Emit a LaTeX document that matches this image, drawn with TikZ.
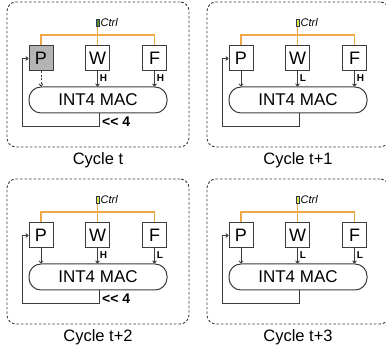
\documentclass[tikz,border=0pt]{standalone}
\usepackage{fontspec}
\setmainfont{Liberation Sans}
\usetikzlibrary{arrows.meta}
\definecolor{ctrlorange}{HTML}{F0A845}
\definecolor{linegray}{HTML}{3C3C3C}
\definecolor{pgray}{HTML}{B4B4B4}
\definecolor{ctrlgreen}{HTML}{5C8C2C}
\definecolor{ctrlyellow}{HTML}{E6E23A}
\definecolor{ctrledge}{HTML}{2A3A5A}
\tikzset{
 panelbox/.style={draw=linegray, dash pattern=on 2.5pt off 2pt, rounded corners=9pt, line width=0.9pt, minimum width=182pt, minimum height=145pt, inner sep=0pt},
 unitbox/.style={draw=linegray, line width=1pt, minimum width=24pt, minimum height=25pt, inner sep=0pt, font=\fontsize{18}{18}\selectfont},
 pbox-hl/.style={unitbox, fill=pgray},
 pbox-no/.style={unitbox, fill=white},
 macbox/.style={draw=linegray, line width=1pt, rounded corners=12pt, minimum width=138pt, minimum height=26pt, inner sep=0pt, font=\fontsize{17}{17}\selectfont},
 flow/.style={draw=linegray, line width=0.9pt, -{To[length=3pt,width=4.5pt]}},
 parrow-hl/.style={flow, dash pattern=on 2pt off 1.5pt},
 parrow-no/.style={flow},
 ctrlline/.style={draw=ctrlorange, line width=1.2pt},
 ctrlicon/.style={draw=ctrledge, line width=0.6pt, minimum width=2.6pt, minimum height=7pt, inner sep=0pt},
 ctrltext/.style={font=\fontsize{11}{11}\selectfont\itshape, inner sep=0pt, anchor=west},
 bitlabel/.style={font=\fontsize{10}{10}\selectfont\bfseries, inner sep=0pt, anchor=west},
 shiftlabel/.style={font=\fontsize{14}{14}\selectfont\bfseries, inner sep=0pt, anchor=north west},
 captext/.style={font=\fontsize{16.5}{16.5}\selectfont, inner sep=0pt},
}
% #1 prefix, #2 dx, #3 dy, #4 mode (hl/no), #5 icon colour, #6 W label, #7 F label, #8 caption
\newcommand\cyclepanel[8]{%
\begin{scope}[shift={(#2,#3)}]
 \node[panelbox] (#1box) at (98,74.5) {};
 \node[pbox-#4] (#1P) at (41,58.5) {P};
 \node[pbox-no] (#1W) at (97.5,58.5) {W};
 \node[pbox-no] (#1F) at (154.5,58.5) {F};
 \node[macbox] (#1mac) at (98,100) {INT4 MAC};
 \node[ctrlicon, fill=#5] (#1icon) at (97.5,23) {};
 \node[ctrltext] (#1ctrl) at (100.5,23) {Ctrl};
 \coordinate (#1bus) at (97.5,35);
 \coordinate (#1fb) at (99,126);
 \coordinate (#1fl) at (22,126);
 \draw[ctrlline] (#1icon.south) -- (#1W.north);
 \draw[ctrlline] (#1P.north) |- (#1bus) -| (#1F.north);
 \draw[parrow-#4] (#1P.south) -- (#1P.south |- #1mac.north);
 \draw[flow] (#1W.south) -- (#1W.south |- #1mac.north)
   node[bitlabel, pos=0.45, xshift=2pt] (#1wl) {#6};
 \draw[flow] (#1F.south) -- (#1F.south |- #1mac.north)
   node[bitlabel, pos=0.45, xshift=2pt] (#1fl2) {#7};
 \draw[flow] (#1fb |- #1mac.south) -- (#1fb) -- (#1fl) |- (#1P.west);
 \node[captext] (#1cap) at (98,160) {#8};
\end{scope}}
\begin{document}
\begin{tikzpicture}[x=1pt, y=-1pt]
\useasboundingbox (0,0) rectangle (386,352);
\cyclepanel{a}{0}{0}{hl}{ctrlgreen}{H}{H}{Cycle t}
\cyclepanel{b}{200}{0}{no}{ctrlyellow}{L}{H}{Cycle t+1}
\cyclepanel{c}{0}{177}{no}{ctrlyellow}{H}{L}{Cycle t+2}
\cyclepanel{d}{200}{177}{no}{ctrlyellow}{L}{L}{Cycle t+3}
\node[shiftlabel] (ashift) at ([xshift=4pt,yshift=-3pt]amac.south) {{<}{<} 4};
\node[shiftlabel] (cshift) at ([xshift=4pt,yshift=-3pt]cmac.south) {{<}{<} 4};
\end{tikzpicture}
\end{document}
